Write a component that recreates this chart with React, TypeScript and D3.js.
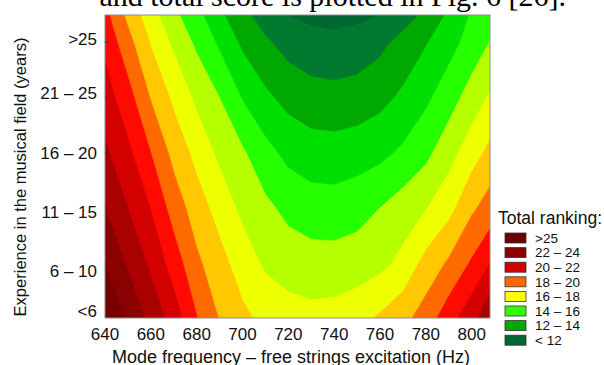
import React from "react";
import * as d3 from "d3";

// Frequency samples (Hz) and experience samples (years, continuous axis)
const freqs = [640, 650, 660, 670, 680, 690, 700, 710, 720, 730, 740, 750, 760, 770, 780, 790, 800, 810];
const expYears = [0, 5, 10, 15, 20, 25, 27.5];

// Total ranking, one array per experience level
const score0 = [25.1, 23.78, 22.72, 21.53, 20.05, 18.94, 18.24, 17.71, 17.41, 17.3, 17.38, 17.65, 18.14, 18.68, 19.48, 20.56, 21.66, 23.2];
const score5 = [24.0, 22.85, 21.8, 20.53, 19.2, 18.36, 17.52, 16.84, 16.55, 16.4, 16.38, 16.48, 16.72, 17.26, 18.33, 19.14, 20.12, 21.2];
const score10 = [23.0, 22.0, 20.97, 19.56, 18.5, 17.59, 16.77, 16.22, 15.73, 15.46, 15.43, 15.63, 16.0, 16.48, 16.95, 17.67, 18.82, 19.6];
const score15 = [22.18, 21.23, 20.0, 18.69, 17.68, 16.78, 16.14, 15.32, 14.72, 14.45, 14.4, 14.52, 14.74, 15.17, 15.74, 16.62, 17.56, 18.45];
const score20 = [21.48, 20.4, 18.94, 17.8, 16.8, 16.0, 14.94, 14.2, 13.68, 13.41, 13.34, 13.45, 13.71, 14.18, 14.8, 15.55, 16.45, 17.31];
const score25 = [20.75, 19.36, 17.93, 16.82, 15.81, 14.82, 13.81, 13.15, 12.63, 12.34, 12.25, 12.38, 12.75, 13.33, 13.93, 14.62, 15.39, 16.2];
const score27 = [20.3, 18.74, 17.42, 16.24, 15.32, 14.22, 13.25, 12.56, 11.98, 11.78, 11.7, 11.8, 12.0, 12.56, 13.2, 14.17, 15.1, 16.0];

// Contour levels and fill colours (band below first level = first colour)
const levels = [0, 12, 13, 14, 15, 16, 17, 18, 19, 20, 21, 22, 23, 24, 25];
const levelColors = [
  "#006633", "#007A2E", "#00A800", "#00E000", "#26FF00", "#B5FF00", "#EEFF00",
  "#FFC800", "#FF6A00", "#FF0A00", "#D40000", "#AA0000", "#8B0000", "#770000", "#6B0000",
];

// Axis tick labels
const xTicks = [640, 660, 680, 700, 720, 740, 760, 780, 800];
const yTickMarks = [5, 10, 15, 20, 25];
const yLabels = [">25", "21 \u2013 25", "16 \u2013 20", "11 \u2013 15", "6 \u2013 10", "<6"];
const yLabelYears = [25.3, 20.4, 15.0, 9.6, 4.3, 0.6];

// Legend
const legendLabels = [">25", "22 \u2013 24", "20 \u2013 22", "18 \u2013 20", "16 \u2013 18", "14 \u2013 16", "12 \u2013 14", "< 12"];
const legendColors = ["#6B0000", "#8B0000", "#D40000", "#FF6600", "#FFFF00", "#33FF00", "#00AA00", "#006633"];

const xTitle = "Mode frequency \u2013 free strings excitation (Hz)";
const yTitle = "Experience in the musical field (years)";
const headerText = "and total score is plotted in Fig. 6 [26].";

const SANS = "Liberation Sans, Arial, Helvetica, sans-serif";

export default function App() {
  const left = 105, right = 490, top = 15, bottom = 318;
  const x = d3.scaleLinear().domain([640, 808]).range([left, right]);
  const y = d3.scaleLinear().domain([0, 27.5]).range([bottom, top]);

  const rows = [score0, score5, score10, score15, score20, score25, score27];
  const n = freqs.length;
  const m = expYears.length;
  const values: number[] = [];
  rows.forEach((r) => r.forEach((v) => values.push(v)));

  const colToHz = d3.scaleLinear().domain([0.5, n - 0.5]).range([freqs[0], freqs[n - 1]]);
  const rowToYears = d3
    .scaleLinear()
    .domain(expYears.map((_, i) => i + 0.5))
    .range(expYears);

  const contours = d3.contours().size([n, m]).thresholds(levels)(values);
  const transform = d3.geoTransform({
    point: function (px: number, py: number) {
      (this as any).stream.point(x(colToHz(px)), y(rowToYears(py)));
    },
  });
  const path = d3.geoPath(transform as any);

  const legendX = 505;
  const legendY0 = 238;
  const legendStep = 14.6;

  return (
    <svg width={604} height={365} style={{ position: "absolute", left: 0, top: 0, background: "#fff" }}>
      <defs>
        <clipPath id="plotClip">
          <rect x={left} y={top} width={right - left} height={bottom - top} />
        </clipPath>
      </defs>
      <rect x={0} y={0} width={604} height={365} fill="#fff" />
      <text x={566} y={6} textAnchor="end" fontFamily="Liberation Serif, Times New Roman, serif" fontSize={30} fill="#000">
        {headerText}
      </text>

      <g clipPath="url(#plotClip)">
        {contours.map((c, i) => (
          <path key={i} d={path(c as any) || ""} fill={levelColors[i]} stroke={levelColors[i]} strokeWidth={0.5} />
        ))}
      </g>
      <rect x={left} y={top} width={right - left} height={bottom - top} fill="none" stroke="#8c8c8c" strokeWidth={1} />

      {yTickMarks.map((t) => (
        <line key={t} x1={left} x2={left + 3} y1={y(t)} y2={y(t)} stroke="#333" strokeWidth={1} />
      ))}

      {yLabels.map((lab, i) => (
        <text key={lab} x={97} y={y(yLabelYears[i])} dy="0.35em" textAnchor="end" fontFamily={SANS} fontSize={17} fill="#111">
          {lab}
        </text>
      ))}
      {xTicks.map((t) => (
        <text key={t} x={x(t)} y={340} textAnchor="middle" fontFamily={SANS} fontSize={17} fill="#111">
          {t}
        </text>
      ))}

      <text x={291} y={362.5} textAnchor="middle" fontFamily={SANS} fontSize={18} fill="#111">
        {xTitle}
      </text>
      <text transform="translate(26,177) rotate(-90)" textAnchor="middle" fontFamily={SANS} fontSize={16.5} fill="#111">
        {yTitle}
      </text>

      <text x={498} y={224} fontFamily={SANS} fontSize={17.5} fill="#111">
        Total ranking:
      </text>
      {legendLabels.map((lab, i) => {
        const cy = legendY0 + i * legendStep;
        return (
          <g key={lab}>
            <rect x={legendX} y={cy - 5} width={21} height={10} fill={legendColors[i]} stroke="#333" strokeWidth={0.8} />
            <text x={535} y={cy} dy="0.36em" fontFamily={SANS} fontSize={13.5} fill="#111">
              {lab}
            </text>
          </g>
        );
      })}
    </svg>
  );
}
